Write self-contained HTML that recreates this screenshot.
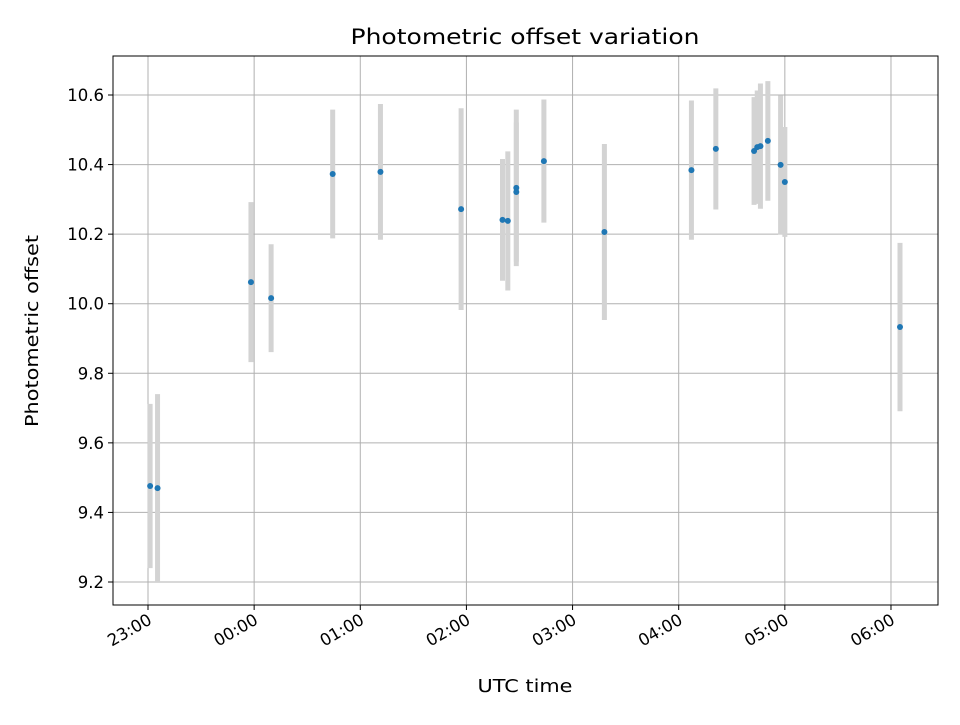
<!DOCTYPE html>
<html><head><meta charset="utf-8"><style>
body{margin:0;background:#fff;}
svg text{font-family:"DejaVu Sans","Liberation Sans",sans-serif;fill:#000;}
</style></head><body>
<svg id="chart" width="960" height="720" xmlns="http://www.w3.org/2000/svg">
<rect width="960" height="720" fill="#fff"/>
<g id="grid"></g>
<g id="bars"></g>
<g id="pts"></g>
<rect x="113" y="56" width="825" height="549" fill="none" stroke="#000" stroke-width="1"/>
<g id="ticks"></g>
<text x="525" y="44" font-size="21" text-anchor="middle" textLength="349" lengthAdjust="spacingAndGlyphs">Photometric offset variation</text>
<text x="525" y="692" font-size="18" text-anchor="middle" textLength="95" lengthAdjust="spacingAndGlyphs">UTC time</text>
<text transform="translate(38,331) rotate(-90)" font-size="18" text-anchor="middle" textLength="192" lengthAdjust="spacingAndGlyphs">Photometric offset</text>
</svg>
<script>
// hours since 23:00
const times=[0.02,0.09,0.97,1.16,1.74,2.19,2.95,3.34,3.39,3.47,3.47,3.73,4.30,5.12,5.35,5.71,5.74,5.77,5.84,5.96,6.00,7.085];
const offsets=[9.476,9.470,10.062,10.016,10.373,10.379,10.272,10.241,10.238,10.333,10.321,10.41,10.206,10.384,10.445,10.439,10.45,10.453,10.468,10.399,10.35,9.933];
const errors=[0.236,0.27,0.23,0.155,0.185,0.195,0.29,0.175,0.2,0.225,0.2,0.177,0.253,0.2,0.174,0.155,0.163,0.18,0.172,0.2,0.158,0.242];
const xTickLabels=["23:00","00:00","01:00","02:00","03:00","04:00","05:00","06:00"];
const yTicks=[9.2,9.4,9.6,9.8,10.0,10.2,10.4,10.6];
const NS="http://www.w3.org/2000/svg";
function xs(h){return 148+h*106.14;}
function ys(v){return 582-(v-9.2)*347.86;}
function mk(tag,attrs,parent){const e=document.createElementNS(NS,tag);for(const k in attrs)e.setAttribute(k,attrs[k]);document.getElementById(parent).appendChild(e);return e;}
xTickLabels.forEach((l,i)=>{
  const x=xs(i);
  const g=mk("line",{x1:x,x2:x,y1:56,y2:605,stroke:"#b0b0b0","stroke-width":1},"grid");
  
  
  const t=mk("line",{x1:x,x2:x,y1:605,y2:610,stroke:"#000"},"ticks");
  
  
  const tx=mk("text",{transform:`translate(${x+5},623) rotate(-30)`,"font-size":16.5,"text-anchor":"end"},"ticks");
  tx.textContent=l;
  
  
});
yTicks.forEach(v=>{
  const y=ys(v);
  const g=mk("line",{x1:113,x2:938,y1:y,y2:y,stroke:"#b0b0b0","stroke-width":1},"grid");
  
  
  const t=mk("line",{x1:108,x2:113,y1:y,y2:y,stroke:"#000"},"ticks");
  
  
  const tx=mk("text",{x:104,y:y+6,"font-size":16.5,"text-anchor":"end"},"ticks");
  tx.textContent=v.toFixed(1);
  
  
});
times.forEach((h,i)=>{
  const x=xs(h);
  const b=mk("line",{x1:x,x2:x,y1:ys(offsets[i]+errors[i]),y2:ys(offsets[i]-errors[i]),stroke:"#d3d3d3","stroke-width":5},"bars");
  
  
});
times.forEach((h,i)=>{
  const c=mk("circle",{cx:xs(h),cy:ys(offsets[i]),r:3,fill:"#1f77b4"},"pts");
  
  
});
</script>
</body></html>
